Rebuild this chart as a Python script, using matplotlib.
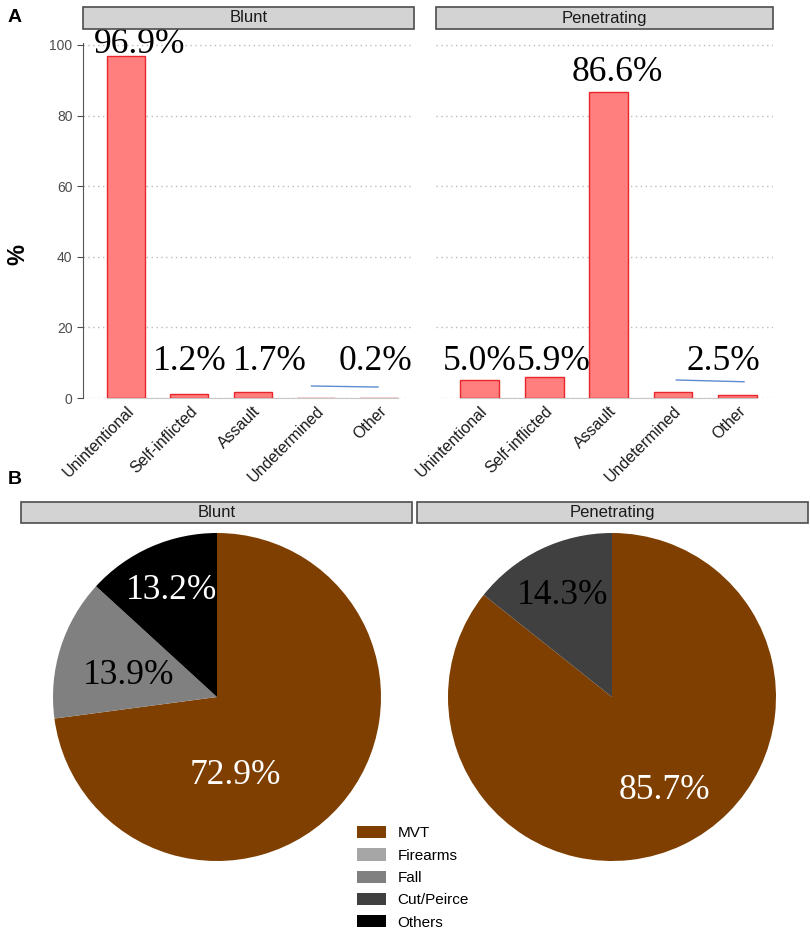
import matplotlib
matplotlib.use("Agg")
import matplotlib.pyplot as plt
from matplotlib.patches import Rectangle, Patch

W, H = 810, 933

# ---- data ----
intent_cats = ["Unintentional", "Self-inflicted", "Assault", "Undetermined", "Other"]
blunt_pct = [96.9, 1.2, 1.7, 0.1, 0.1]
pen_pct = [5.0, 5.9, 86.6, 1.6, 0.9]

blunt_labels = ["96.9%", "1.2%", "1.7%", "0.2%"]
blunt_label_pos = [(0.22, 97.7), (1.0, 7.9), (2.27, 7.9), (3.94, 7.9)]
pen_labels = ["5.0%", "5.9%", "86.6%", "2.5%"]
pen_label_pos = [(0.0, 7.9), (1.15, 7.9), (2.13, 89.8), (3.78, 7.9)]

mech_cats = ["MVT", "Firearms", "Fall", "Cut/Peirce", "Others"]
mech_colors = ["#7F3F00", "#A6A6A6", "#808080", "#404040", "#000000"]
blunt_mech = [72.9, 0.0, 13.9, 0.0, 13.2]
pen_mech = [85.7, 0.0, 0.0, 14.3, 0.0]

blunt_pie_labels = [("72.9%", 0.11, -0.48, "white"), ("13.9%", -0.54, 0.13, "black"),
                    ("13.2%", -0.28, 0.65, "white")]
pen_pie_labels = [("85.7%", 0.32, -0.57, "white"), ("14.3%", -0.30, 0.62, "black")]

SERIF = ["Liberation Serif", "DejaVu Serif"]
SANS = ["Liberation Sans", "DejaVu Sans"]
plt.rcParams["font.family"] = SANS


def box(x0, y0, x1, y1):
    return [x0 / W, 1 - y1 / H, (x1 - x0) / W, (y1 - y0) / H]


def strip(fig, x0, y0, x1, y1, text):
    fig.patches.append(Rectangle((x0 / W, 1 - y1 / H), (x1 - x0) / W, (y1 - y0) / H,
                                 transform=fig.transFigure, facecolor="#D3D3D3",
                                 edgecolor="#4D4D4D", linewidth=1.2))
    fig.text((x0 + x1) / 2 / W, 1 - (y0 + y1) / 2 / H, text, ha="center", va="center",
             fontsize=12, color="#1A1A1A")


def bar_panel(ax, values, labels, label_pos, first):
    x = range(len(intent_cats))
    ax.bar(x, values, width=0.6, color="#FF7F7F", edgecolor="#E8262B", linewidth=1, zorder=3)
    ax.set_xlim(-0.68, 4.55)
    ax.set_ylim(0, 104.5)
    ax.set_yticks([0, 20, 40, 60, 80, 100])
    ax.yaxis.grid(True, linestyle=(0, (1, 2.5)), color="#BBBBBB", linewidth=1)
    ax.set_axisbelow(True)
    ax.set_xticks(list(x))
    ax.set_xticklabels(intent_cats, rotation=45, ha="right", rotation_mode="anchor",
                       fontsize=11.5, color="#1A1A1A")
    ax.tick_params(axis="x", length=0, pad=4)
    for s in ["top", "right"]:
        ax.spines[s].set_visible(False)
    ax.spines["bottom"].set_color("#C8C8C8")
    ax.spines["bottom"].set_bounds(-0.3, 4.3)
    if first:
        ax.spines["left"].set_color("#555555")
        ax.spines["left"].set_bounds(0, 100.5)
        ax.tick_params(axis="y", labelsize=10, colors="#4D4D4D", length=4)
    else:
        ax.spines["left"].set_visible(False)
        ax.tick_params(axis="y", left=False, labelleft=False)
    for t, (lx, ly) in zip(labels, label_pos):
        ax.text(lx, ly, t, ha="center", va="baseline", fontsize=25.5, family=SERIF)


def pie_panel(ax, values, labels):
    vals = [v for v in values if v > 0]
    cols = [c for v, c in zip(values, mech_colors) if v > 0]
    ax.pie(vals, colors=cols, startangle=90, counterclock=False, radius=1,
           wedgeprops=dict(linewidth=0))
    ax.set_xlim(-1, 1)
    ax.set_ylim(-1, 1)
    ax.set_aspect("equal")
    for t, lx, ly, c in labels:
        ax.text(lx, ly, t, ha="center", va="center", fontsize=25.5, family=SERIF, color=c)


fig = plt.figure(figsize=(W / 100, H / 100), dpi=100)

ax1 = fig.add_axes(box(83, 29, 414, 398))
bar_panel(ax1, blunt_pct, blunt_labels, blunt_label_pos, True)
ax1.plot([2.93, 3.98], [3.4, 3.1], color="#5B8BD0", linewidth=1, zorder=4)
strip(fig, 83, 7, 414, 29, "Blunt")

ax2 = fig.add_axes(box(436, 29, 773, 398))
bar_panel(ax2, pen_pct, pen_labels, pen_label_pos, False)
ax2.plot([3.05, 4.1], [5.1, 4.6], color="#5B8BD0", linewidth=1, zorder=4)
strip(fig, 436, 7, 773, 29, "Penetrating")

fig.text(18 / W, 1 - 255 / H, "%", rotation=90, ha="center", va="center",
         fontsize=17, fontweight="bold")
fig.text(8 / W, 1 - 18 / H, "A", ha="left", va="center", fontsize=14, fontweight="bold")
fig.text(8 / W, 1 - 479 / H, "B", ha="left", va="center", fontsize=14, fontweight="bold")

strip(fig, 21, 502, 412, 523, "Blunt")
strip(fig, 417, 502, 808, 523, "Penetrating")

ax3 = fig.add_axes(box(217 - 164, 697 - 164, 217 + 164, 697 + 164))
pie_panel(ax3, blunt_mech, blunt_pie_labels)
ax4 = fig.add_axes(box(612 - 164, 697 - 164, 612 + 164, 697 + 164))
pie_panel(ax4, pen_mech, pen_pie_labels)

handles = [Patch(facecolor=c, edgecolor="none", label=l) for c, l in zip(mech_colors, mech_cats)]
fig.legend(handles=handles, loc="upper left", bbox_to_anchor=(357 / W, 1 - 826 / H),
           frameon=False, fontsize=11, handlelength=1.9, handleheight=0.85,
           labelspacing=0.52, handletextpad=0.75, borderpad=0, borderaxespad=0)

fig.savefig("out.png", dpi=100)
